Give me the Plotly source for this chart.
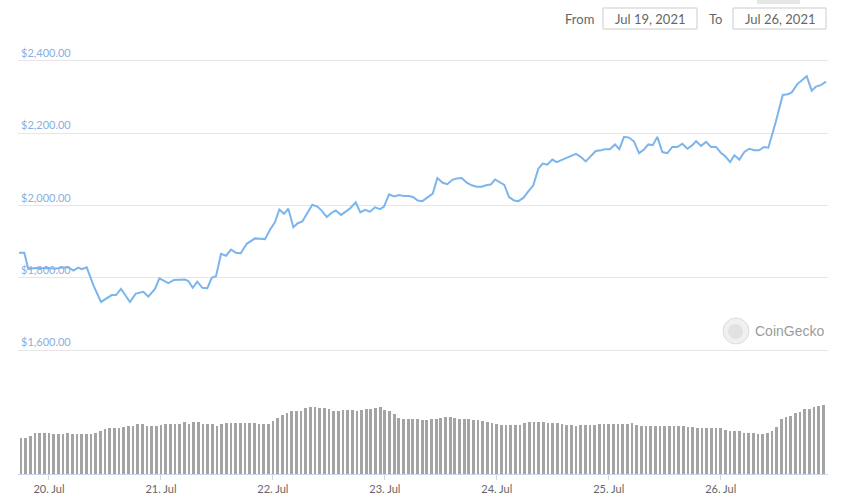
# ETH price (USD) and volume, 19 - 26 Jul 2021
import pandas as pd
import plotly.graph_objects as go

# Data
inicio = pd.Timestamp("2021-07-19 17:00")

# hours after 19 Jul 17:00 for each price point
horas = [
    0.58, 1.71, 2.57, 4.01, 5.51, 6.86, 8.30, 9.58, 11.15, 12.22, 13.29, 14.02,
    15.09, 16.55, 18.16, 20.45, 21.37, 22.45, 23.41, 24.37, 25.60, 27.23, 28.30, 29.73,
    30.66, 32.59, 33.81, 35.09, 36.17, 36.87, 37.82, 38.80, 39.87, 40.95, 41.89, 42.81,
    43.88, 44.96, 46.03, 47.10, 48.11, 49.39, 50.31, 51.17, 52.24, 53.31, 54.39, 55.46,
    56.38, 57.39, 58.31, 59.38, 60.33, 61.31, 62.38, 63.46, 64.53, 65.47, 66.54, 67.61,
    68.47, 69.61, 70.61, 71.69, 72.76, 73.75, 74.75, 75.82, 76.89, 77.97, 78.82, 79.90,
    80.97, 82.04, 83.11, 84.19, 85.11, 86.05, 87.04, 88.33, 89.27, 90.26, 91.41, 92.40,
    93.47, 94.41, 95.49, 96.56, 97.63, 98.70, 99.77, 100.69, 101.70, 102.62, 103.69, 104.61,
    105.62, 106.69, 107.61, 108.69, 109.76, 110.83, 111.90, 112.84, 113.83, 114.90, 115.84, 117.26,
    118.70, 119.98, 121.06, 122.06, 123.20, 124.21, 125.34, 126.20, 127.27, 128.34, 129.27, 130.27,
    131.35, 132.42, 133.49, 134.56, 135.49, 136.43, 137.41, 138.49, 139.56, 140.63, 141.70, 142.78,
    143.85, 144.92, 145.72, 146.79, 147.86, 148.93, 150.00, 151.08, 151.93, 153.01, 153.93, 155.00,
    156.07, 157.14, 158.21, 159.22, 160.29, 161.21, 162.80, 164.30, 165.37, 166.23, 167.43, 168.37,
    169.44, 170.51, 171.43, 172.44, 173.57,
]

preco = [
    1869, 1869, 1824, 1827, 1826, 1827, 1825, 1828, 1829, 1820, 1828, 1824,
    1829, 1778, 1733, 1752, 1752, 1769, 1751, 1733, 1756, 1761, 1748, 1769,
    1798, 1785, 1794, 1794, 1795, 1791, 1772, 1789, 1772, 1771, 1800, 1804,
    1866, 1861, 1878, 1869, 1868, 1894, 1903, 1909, 1908, 1907, 1933, 1954,
    1989, 1977, 1991, 1940, 1951, 1956, 1979, 2002, 1997, 1986, 1968, 1980,
    1986, 1974, 1983, 1994, 2009, 1981, 1988, 1983, 1995, 1990, 1997, 2031,
    2025, 2029, 2026, 2026, 2023, 2014, 2012, 2023, 2033, 2076, 2063, 2059,
    2071, 2075, 2076, 2063, 2056, 2052, 2052, 2056, 2058, 2072, 2065, 2057,
    2023, 2014, 2012, 2021, 2039, 2056, 2102, 2116, 2113, 2127, 2120, 2127,
    2136, 2143, 2134, 2122, 2139, 2151, 2153, 2156, 2156, 2169, 2156, 2190,
    2188, 2177, 2145, 2155, 2169, 2167, 2190, 2148, 2145, 2162, 2162, 2171,
    2157, 2167, 2178, 2165, 2176, 2162, 2162, 2145, 2137, 2120, 2139, 2127,
    2148, 2157, 2153, 2153, 2162, 2160, 2231, 2306, 2308, 2313, 2336, 2347,
    2358, 2318, 2329, 2333, 2343,
]

# hourly volume from 19 Jul 18:00 (no scale shown on the chart)
volume = [
    36.3, 36.3, 38.0, 40.7, 40.7, 40.7,
    41.3, 39.7, 39.7, 39.7, 40.7, 39.7, 39.7, 39.7, 39.7, 39.7, 40.7, 43.3,
    45.3, 46.3, 46.3, 46.3, 47.3, 48.3, 48.3, 50.3, 50.3, 48.3, 48.3, 48.3,
    49.3, 50.3, 50.3, 50.3, 50.3, 51.7, 50.3, 51.7, 51.7, 49.7, 49.7, 49.7,
    48.0, 49.7, 50.7, 50.7, 51.3, 51.3, 51.3, 50.7, 51.3, 50.3, 50.3, 50.3,
    53.0, 55.7, 59.0, 61.3, 63.0, 63.3, 63.3, 65.7, 66.7, 66.7, 65.7, 65.7,
    64.7, 63.3, 63.3, 64.0, 64.0, 64.0, 63.3, 64.0, 65.0, 65.0, 65.7, 66.7,
    64.0, 63.0, 60.0, 56.3, 55.0, 55.0, 55.0, 55.0, 54.0, 54.5, 55.0, 55.0,
    55.7, 56.7, 56.7, 56.0, 55.0, 54.7, 54.7, 54.0, 54.0, 53.0, 52.3, 50.7,
    49.7, 49.0, 49.0, 49.0, 49.0, 49.0, 51.3, 52.3, 52.3, 52.3, 51.7, 50.7,
    50.7, 50.7, 49.7, 49.0, 48.7, 48.0, 48.7, 49.0, 49.0, 49.0, 49.7, 49.7,
    49.7, 49.7, 49.7, 49.7, 49.7, 50.7, 49.0, 48.0, 48.0, 48.0, 48.0, 48.0,
    48.0, 48.0, 48.0, 48.0, 48.0, 47.3, 46.7, 45.7, 45.7, 45.7, 45.7, 45.7,
    45.7, 44.5, 43.3, 42.7, 42.7, 41.3, 41.3, 40.7, 40.0, 39.7, 41.3, 43.3,
    47.0, 55.0, 57.3, 58.0, 61.0, 62.3, 64.7, 65.3, 67.3, 68.3, 69.3,
]

datas_preco = inicio + pd.to_timedelta(horas, unit="h")
datas_volume = pd.date_range("2021-07-19 18:00", periods=len(volume), freq="h")

data_de = "Jul 19, 2021"
data_ate = "Jul 26, 2021"

fonte = "Lato"
azul = "#7cb5ec"

# Figura
fig = go.Figure()
fig.add_trace(
    go.Bar(
        x=datas_volume,
        y=volume,
        xaxis="x",
        yaxis="y",
        marker_color="#a4a4a4",
        marker_line_width=0,
        width=0.58 * 3600 * 1000,
        showlegend=False,
    )
)
fig.add_trace(
    go.Scatter(
        x=datas_preco,
        y=preco,
        xaxis="x2",
        yaxis="y2",
        mode="lines",
        line=dict(color=azul, width=2),
        showlegend=False,
    )
)

faixa_x = [inicio + pd.Timedelta(hours=0.36), inicio + pd.Timedelta(hours=174.0)]

fig.update_layout(
    width=844,
    height=503,
    margin=dict(l=18, r=16, t=0, b=29),
    paper_bgcolor="white",
    plot_bgcolor="white",
    font=dict(family=fonte, size=11, color="#666666"),
    bargap=0,
    xaxis=dict(
        range=faixa_x,
        anchor="y",
        type="date",
        dtick=24 * 3600 * 1000,
        tickformat="%d. %b",
        ticks="outside",
        ticklen=5,
        tickcolor="#ccd6eb",
        showline=True,
        linecolor="#ccd6eb",
        linewidth=1,
        showgrid=False,
        zeroline=False,
        tickfont=dict(size=11, color="#666666"),
    ),
    xaxis2=dict(
        range=faixa_x,
        matches="x",
        anchor="y2",
        type="date",
        showticklabels=False,
        showgrid=False,
        zeroline=False,
        showline=False,
    ),
    yaxis=dict(
        domain=[0, 79 / 474],
        range=[0, 79],
        showticklabels=False,
        showgrid=False,
        zeroline=False,
    ),
    yaxis2=dict(
        domain=[122 / 474, 434 / 474],
        range=[1594.5, 2458.1],
        tickvals=[1600, 1800, 2000, 2200, 2400],
        tickformat="$,.2f",
        ticklabelposition="inside top",
        tickfont=dict(size=11, color="#89aee0"),
        gridcolor="#e6e6e6",
        gridwidth=1,
        zeroline=False,
        showline=False,
    ),
)

# Caixas de datas (From / To)
caixas = [(603, 697, data_de), (733, 826, data_ate)]
for x0, x1, texto in caixas:
    fig.add_shape(
        type="rect", xref="paper", yref="paper",
        x0=(x0 - 18) / 810, x1=(x1 - 18) / 810,
        y0=(474 - 29) / 474, y1=(474 - 8) / 474,
        line=dict(color="#cccccc", width=1), fillcolor="white",
    )
    fig.add_annotation(
        xref="paper", yref="paper",
        x=((x0 + x1) / 2 - 18) / 810, y=(474 - 18.5) / 474,
        text=texto, showarrow=False,
        font=dict(family=fonte, size=13, color="#666666"),
        xanchor="center", yanchor="middle",
    )

fig.add_annotation(
    xref="paper", yref="paper", x=(596 - 18) / 810, y=(474 - 18.5) / 474,
    text="From", showarrow=False, xanchor="right", yanchor="middle",
    font=dict(family=fonte, size=13, color="#666666"),
)
fig.add_annotation(
    xref="paper", yref="paper", x=(715.5 - 18) / 810, y=(474 - 18.5) / 474,
    text="To", showarrow=False, xanchor="center", yanchor="middle",
    font=dict(family=fonte, size=13, color="#666666"),
)

# botão cortado no topo
fig.add_shape(
    type="rect", xref="paper", yref="paper",
    x0=(757 - 18) / 810, x1=(800 - 18) / 810,
    y0=(474 - 4) / 474, y1=(474 + 6) / 474,
    line=dict(width=0), fillcolor="#e6e6e6",
)

# Marca d'água CoinGecko
fig.add_shape(
    type="circle", xref="paper", yref="paper",
    x0=(723 - 18) / 810, x1=(749 - 18) / 810,
    y0=(474 - 344) / 474, y1=(474 - 318) / 474,
    line=dict(color="#dddddd", width=1), fillcolor="#f0f0f0",
)
fig.add_shape(
    type="circle", xref="paper", yref="paper",
    x0=(728 - 18) / 810, x1=(743 - 18) / 810,
    y0=(474 - 339) / 474, y1=(474 - 324) / 474,
    line=dict(width=0), fillcolor="#e2e2e2",
)
fig.add_annotation(
    xref="paper", yref="paper", x=(753 - 18) / 810, y=(474 - 331) / 474,
    text="CoinGecko", showarrow=False, xanchor="left", yanchor="middle",
    font=dict(family="Liberation Sans", size=14, color="#9c9c9c"),
)

# sem margem do body, para a figura ficar encostada no canto
fig.write_html(
    "out.html",
    config={"displayModeBar": False},
    post_script="document.body.style.margin = '0';",
)
